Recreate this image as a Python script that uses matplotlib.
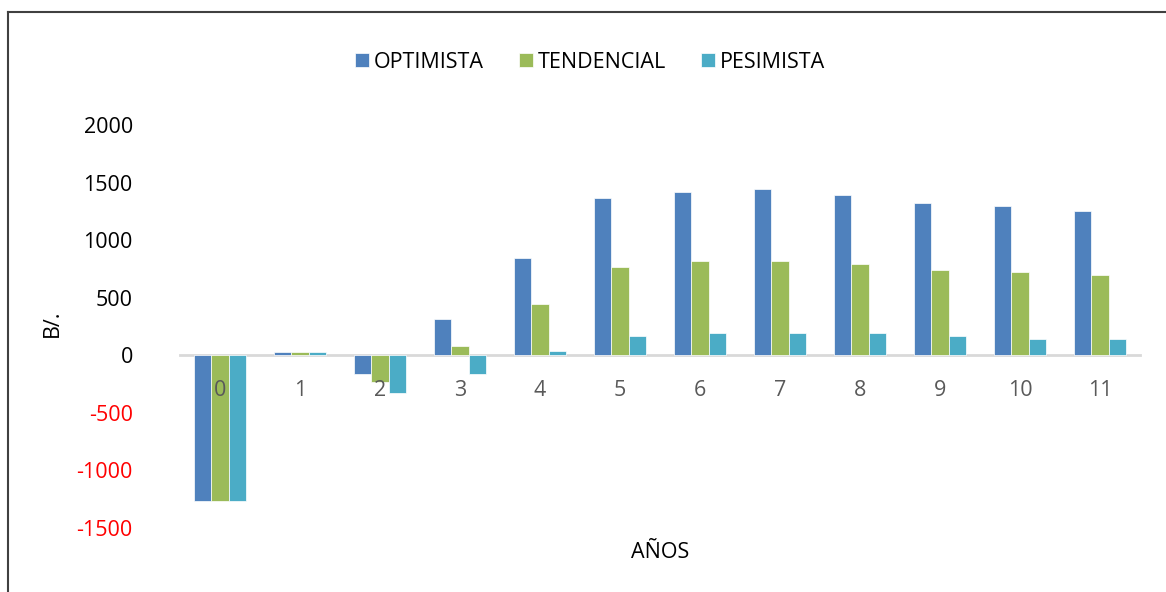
import matplotlib.pyplot as plt
import matplotlib.lines as mlines
import numpy as np

plt.rcParams['font.family'] = ['Open Sans', 'DejaVu Sans']

years = ['0', '1', '2', '3', '4', '5', '6', '7', '8', '9', '10', '11']
optimista = [-1265, 32, -160, 315, 845, 1370, 1417, 1441, 1391, 1322, 1298, 1249]
tendencial = [-1265, 32, -232, 81, 443, 767, 817, 817, 791, 745, 722, 696]
pesimista = [-1265, 32, -328, -160, 35, 165, 191, 191, 191, 165, 142, 142]
yticks = [-1500, -1000, -500, 0, 500, 1000, 1500, 2000]

W, H = 1166, 592
fig = plt.figure(figsize=(W / 100, H / 100), dpi=100)
ax = fig.add_axes([180 / W, 1 - 528 / H, 960 / W, 403 / H])

fs = 15.5

x = np.arange(len(years))
width = 0.215
ax.bar(x - width, optimista, width, label='OPTIMISTA', color='#4F81BD', edgecolor='white', linewidth=0.5)
ax.bar(x, tendencial, width, label='TENDENCIAL', color='#9BBB59', edgecolor='white', linewidth=0.5)
ax.bar(x + width, pesimista, width, label='PESIMISTA', color='#4BACC6', edgecolor='white', linewidth=0.5)

ax.set_xlim(-0.5, len(years) - 0.5)
ax.set_ylim(-1500, 2000)

for s in ['top', 'right', 'left']:
    ax.spines[s].set_visible(False)
ax.spines['bottom'].set_position(('data', 0))
ax.spines['bottom'].set_color('#D9D9D9')
ax.spines['bottom'].set_linewidth(2)
ax.spines['bottom'].set_zorder(0)

ax.set_xticks(x)
ax.set_xticklabels(years, fontsize=fs, color='#595959')
ax.tick_params(axis='x', length=0, pad=18)
ax.set_yticks(yticks)
ax.set_yticklabels([str(v) for v in yticks], fontsize=fs)
ax.tick_params(axis='y', length=0, pad=34)
for lbl, v in zip(ax.get_yticklabels(), yticks):
    lbl.set_color('red' if v < 0 else 'black')

fig.text(660 / W, 1 - 552 / H, 'AÑOS', ha='center', va='center', fontsize=fs)
fig.text(52 / W, 1 - 323 / H, 'B/.', ha='center', va='center', rotation=90, fontsize=fs)

fig.legend(loc='center', bbox_to_anchor=(590 / W, 1 - 62 / H), ncol=3, frameon=False,
           fontsize=fs, handlelength=0.65, handleheight=0.65, handletextpad=0.25,
           columnspacing=1.6)

# chart border (left and top edges)
fig.add_artist(mlines.Line2D([8 / W, 8 / W], [0, 1 - 12 / H], color='#404040', lw=1.5))
fig.add_artist(mlines.Line2D([8 / W, 1], [1 - 12 / H, 1 - 12 / H], color='#404040', lw=1.5))

fig.savefig('out.png', dpi=100, facecolor='white')
